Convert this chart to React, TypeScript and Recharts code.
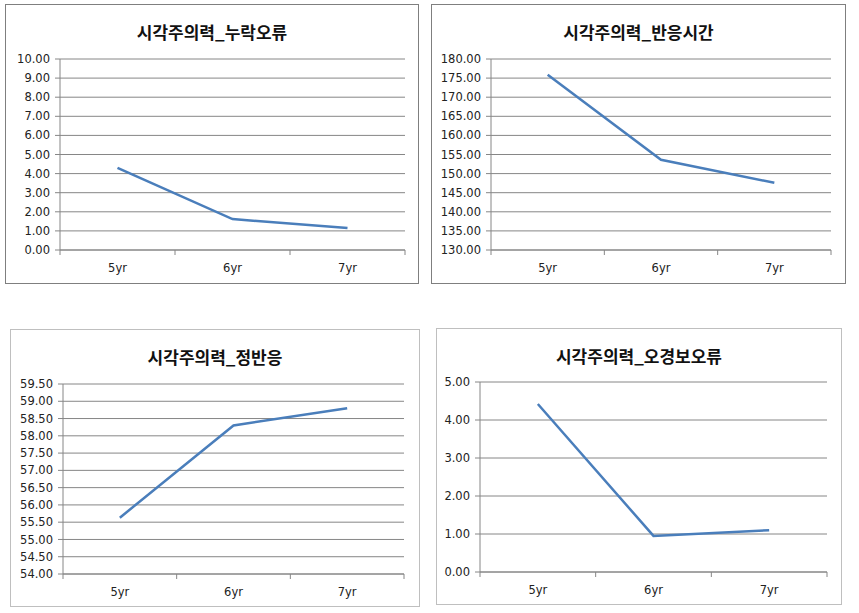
import React from "react";
import { LineChart, Line, XAxis, YAxis, CartesianGrid } from "recharts";

const categories = ["5yr", "6yr", "7yr"];

const omissionErrors = [4.3, 1.62, 1.15];
const reactionTime = [175.9, 153.6, 147.6];
const correctResponses = [55.63, 58.3, 58.8];
const falseAlarms = [4.42, 0.95, 1.1];

const omissionTicks = [0, 1, 2, 3, 4, 5, 6, 7, 8, 9, 10];
const reactionTicks = [130, 135, 140, 145, 150, 155, 160, 165, 170, 175, 180];
const correctTicks = [54, 54.5, 55, 55.5, 56, 56.5, 57, 57.5, 58, 58.5, 59, 59.5];
const falseAlarmTicks = [0, 1, 2, 3, 4, 5];

const TITLE_FONT = "'Noto Sans CJK KR', 'Noto Sans', sans-serif";
const TICK_FONT = "'DejaVu Sans', 'Noto Sans', sans-serif";
const GRID = "#868686";
const LINE = "#4A7EBB";

// x positions: category i sits at i + 0.5, boundaries at integers
const xTicks = [0, 0.5, 1, 1.5, 2, 2.5, 3];

function buildData(values: number[]) {
  return categories.map((name, i) => ({ name, x: i + 0.5, value: values[i] }));
}

function CategoryTick(props: any) {
  const { x, y, payload } = props;
  const v = payload.value as number;
  if (Number.isInteger(v)) {
    return <line x1={x} x2={x} y1={y} y2={y + 5} stroke={GRID} strokeWidth={1} />;
  }
  const label = categories[Math.floor(v)];
  return (
    <text x={x} y={y + 22} textAnchor="middle" fontSize={11.5} fill="#222" fontFamily={TICK_FONT}>
      {label}
    </text>
  );
}

type PanelProps = {
  title: string;
  values: number[];
  ticks: number[];
  frame: { x: number; y: number; w: number; h: number };
  plot: { left: number; top: number; right: number; bottom: number };
  border: string;
};

function Panel({ title, values, ticks, frame, plot, border }: PanelProps) {
  const innerX = frame.x + 1;
  const innerY = frame.y + 1;
  const width = frame.w - 2;
  const height = frame.h - 2;
  const yWidth = plot.left - innerX;
  const xHeight = innerY + height - plot.bottom;
  return (
    <div
      style={{
        position: "absolute",
        left: frame.x,
        top: frame.y,
        width: frame.w,
        height: frame.h,
        boxSizing: "border-box",
        border: `1px solid ${border}`,
        background: "#fff",
      }}
    >
      <div
        style={{
          position: "absolute",
          left: 0,
          width: "100%",
          top: 16,
          textAlign: "center",
          fontFamily: TITLE_FONT,
          fontWeight: 700,
          fontSize: 17,
          lineHeight: "22px",
          color: "#111",
        }}
      >
        {title}
      </div>
      <div style={{ position: "absolute", left: 0, top: 0 }}>
        <LineChart
          width={width}
          height={height}
          data={buildData(values)}
          margin={{ top: plot.top - innerY, right: innerX + width - plot.right, bottom: 0, left: 0 }}
        >
          <CartesianGrid vertical={false} stroke={GRID} />
          <XAxis
            dataKey="x"
            type="number"
            domain={[0, 3]}
            ticks={xTicks}
            interval={0}
            height={xHeight}
            tickSize={0}
            tickMargin={0}
            tickLine={false}
            axisLine={{ stroke: GRID }}
            tick={<CategoryTick />}
          />
          <YAxis
            type="number"
            domain={[ticks[0], ticks[ticks.length - 1]]}
            ticks={ticks}
            interval={0}
            width={yWidth}
            tickSize={5}
            tickMargin={5}
            axisLine={{ stroke: GRID }}
            tickLine={{ stroke: GRID }}
            tick={{ fontSize: 11.5, fill: "#222", fontFamily: TICK_FONT }}
            tickFormatter={(v: number) => v.toFixed(2)}
          />
          <Line
            type="linear"
            dataKey="value"
            stroke={LINE}
            strokeWidth={2.5}
            dot={false}
            activeDot={false}
            isAnimationActive={false}
          />
        </LineChart>
      </div>
    </div>
  );
}

export default function App() {
  return (
    <div style={{ position: "absolute", left: 0, top: 0, width: 859, height: 613, background: "#fff" }}>
      <Panel
        title="시각주의력_누락오류"
        values={omissionErrors}
        ticks={omissionTicks}
        frame={{ x: 5, y: 4, w: 414, h: 280 }}
        plot={{ left: 60, top: 59, right: 405, bottom: 250 }}
        border="#7f7f7f"
      />
      <Panel
        title="시각주의력_반응시간"
        values={reactionTime}
        ticks={reactionTicks}
        frame={{ x: 431, y: 4, w: 415, h: 280 }}
        plot={{ left: 491, top: 59, right: 831, bottom: 250 }}
        border="#7f7f7f"
      />
      <Panel
        title="시각주의력_정반응"
        values={correctResponses}
        ticks={correctTicks}
        frame={{ x: 10, y: 329, w: 410, h: 278 }}
        plot={{ left: 63, top: 384, right: 404, bottom: 574 }}
        border="#bfbfbf"
      />
      <Panel
        title="시각주의력_오경보오류"
        values={falseAlarms}
        ticks={falseAlarmTicks}
        frame={{ x: 436, y: 328, w: 406, h: 277 }}
        plot={{ left: 480, top: 382, right: 827, bottom: 572 }}
        border="#bfbfbf"
      />
    </div>
  );
}
